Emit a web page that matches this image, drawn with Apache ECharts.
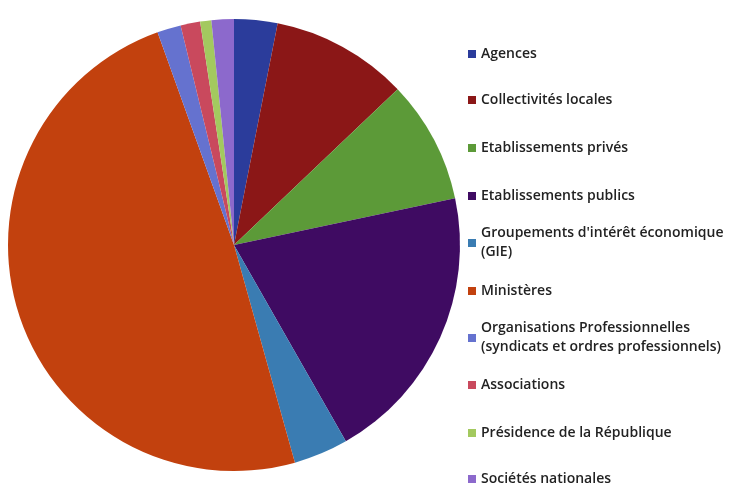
<!DOCTYPE html>
<html>
<head>
<meta charset="utf-8">
<script src="https://cdn.jsdelivr.net/npm/echarts@6/dist/echarts.min.js"></script>
<style>
  html, body { margin: 0; padding: 0; background: #fff; }
  #chart { width: 734px; height: 487px; }
</style>
</head>
<body>
<div id="chart"></div>
<script>
// categories, in pie order (clockwise from 12 o'clock)
const names = [
  'Agences',
  'Collectivités locales',
  'Etablissements privés',
  'Etablissements publics',
  "Groupements d'intérêt économique\n(GIE)",
  'Ministères',
  'Organisations Professionnelles\n(syndicats et ordres professionnels)',
  'Associations',
  'Présidence de la République',
  'Sociétés nationales'
];
// share of each category (%)
const shares = [3.1, 9.8, 8.8, 20.1, 3.9, 48.9, 1.7, 1.4, 0.8, 1.6];
const colors = ['#2b3c9b', '#8b1717', '#5c9a38', '#3f0b62', '#3a7cb2',
                '#c2410e', '#6572cf', '#c9495d', '#a3c95f', '#8c69cc'];

// y of the first text line of each legend entry
const legendY = [54, 100, 148, 196, 243, 291, 338, 385, 433, 479];
const lineH = 19;

const chart = echarts.init(document.getElementById('chart'));

const legends = names.map((n, i) => {
  const twoLines = n.indexOf('\n') >= 0;
  return {
    data: [{ name: n, textStyle: twoLines ? { padding: [lineH, 0, 0, 0] } : {} }],
    left: 468,
    top: twoLines ? legendY[i] - 1.5 * lineH : legendY[i] - lineH / 2,
    padding: 0,
    icon: 'rect',
    itemWidth: 8,
    itemHeight: 8,
    selectedMode: false,
    textStyle: {
      fontFamily: 'Open Sans',
      fontSize: 14,
      fontWeight: 600,
      color: '#222',
      lineHeight: lineH
    }
  };
});

chart.setOption({
  animation: false,
  backgroundColor: '#fff',
  color: colors,
  legend: legends,
  series: [{
    type: 'pie',
    center: [234, 245],
    radius: 226,
    startAngle: 90,
    clockwise: true,
    label: { show: false },
    labelLine: { show: false },
    itemStyle: { borderWidth: 0 },
    data: names.map((n, i) => ({ name: n, value: shares[i] }))
  }]
});
</script>
</body>
</html>
